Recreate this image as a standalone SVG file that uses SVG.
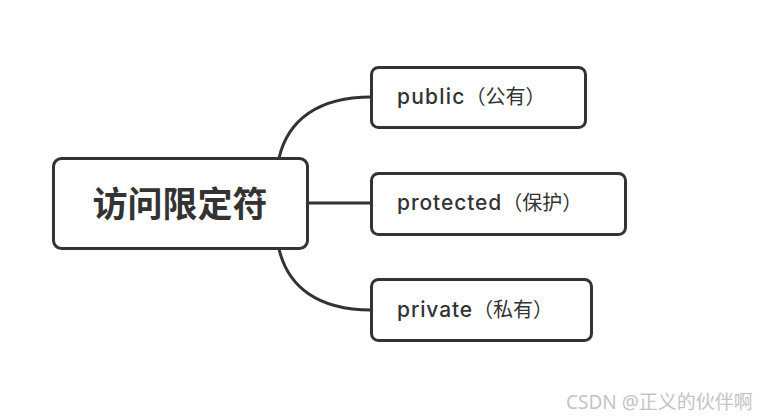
<svg xmlns="http://www.w3.org/2000/svg" width="772" height="420" viewBox="0 0 772 420">
<style>
.box{fill:#fff;stroke:#333;stroke-width:3}
.ln{fill:none;stroke:#333;stroke-width:3}
.t{font-family:Inter,"Noto Sans CJK SC",sans-serif;font-size:21px;font-weight:500;fill:#333}
.z{font-family:"Noto Sans CJK SC",sans-serif;font-size:20px;font-weight:400}
.c{font-family:"Noto Sans CJK SC",sans-serif;font-size:35px;font-weight:bold;fill:#333}
.w{font-family:"Noto Sans","Noto Sans CJK SC",sans-serif;font-size:19px;fill:#c4c4c4}
</style>
<rect width="772" height="420" fill="#fff"/>
<g id="connectors">
<path class="ln" d="M279 158 C288 120 318 97 371 97"/>
<path class="ln" d="M308 203 L371 203"/>
<path class="ln" d="M279 249 C288 287 318 310 371 310"/>
</g>
<g id="root">
<rect class="box" x="53.5" y="158.5" width="254" height="90" rx="8"/>
<text class="c" x="180" y="217" text-anchor="middle">访问限定符</text>
</g>
<g id="public">
<rect class="box" x="371.5" y="67.5" width="214" height="60" rx="7"/>
<text class="t" x="397" y="104"><tspan letter-spacing="1.2">public</tspan><tspan class="z">（公有）</tspan></text>
</g>
<g id="protected">
<rect class="box" x="371.5" y="173.5" width="254" height="61" rx="7"/>
<text class="t" x="397" y="210"><tspan letter-spacing="0.9">protected</tspan><tspan class="z">（保护）</tspan></text>
</g>
<g id="private">
<rect class="box" x="371.5" y="279.5" width="220" height="61" rx="7"/>
<text class="t" x="397" y="317"><tspan letter-spacing="0.9">private</tspan><tspan class="z">（私有）</tspan></text>
</g>
<text class="w" x="566" y="409">CSDN @正义的伙伴啊</text>
</svg>
